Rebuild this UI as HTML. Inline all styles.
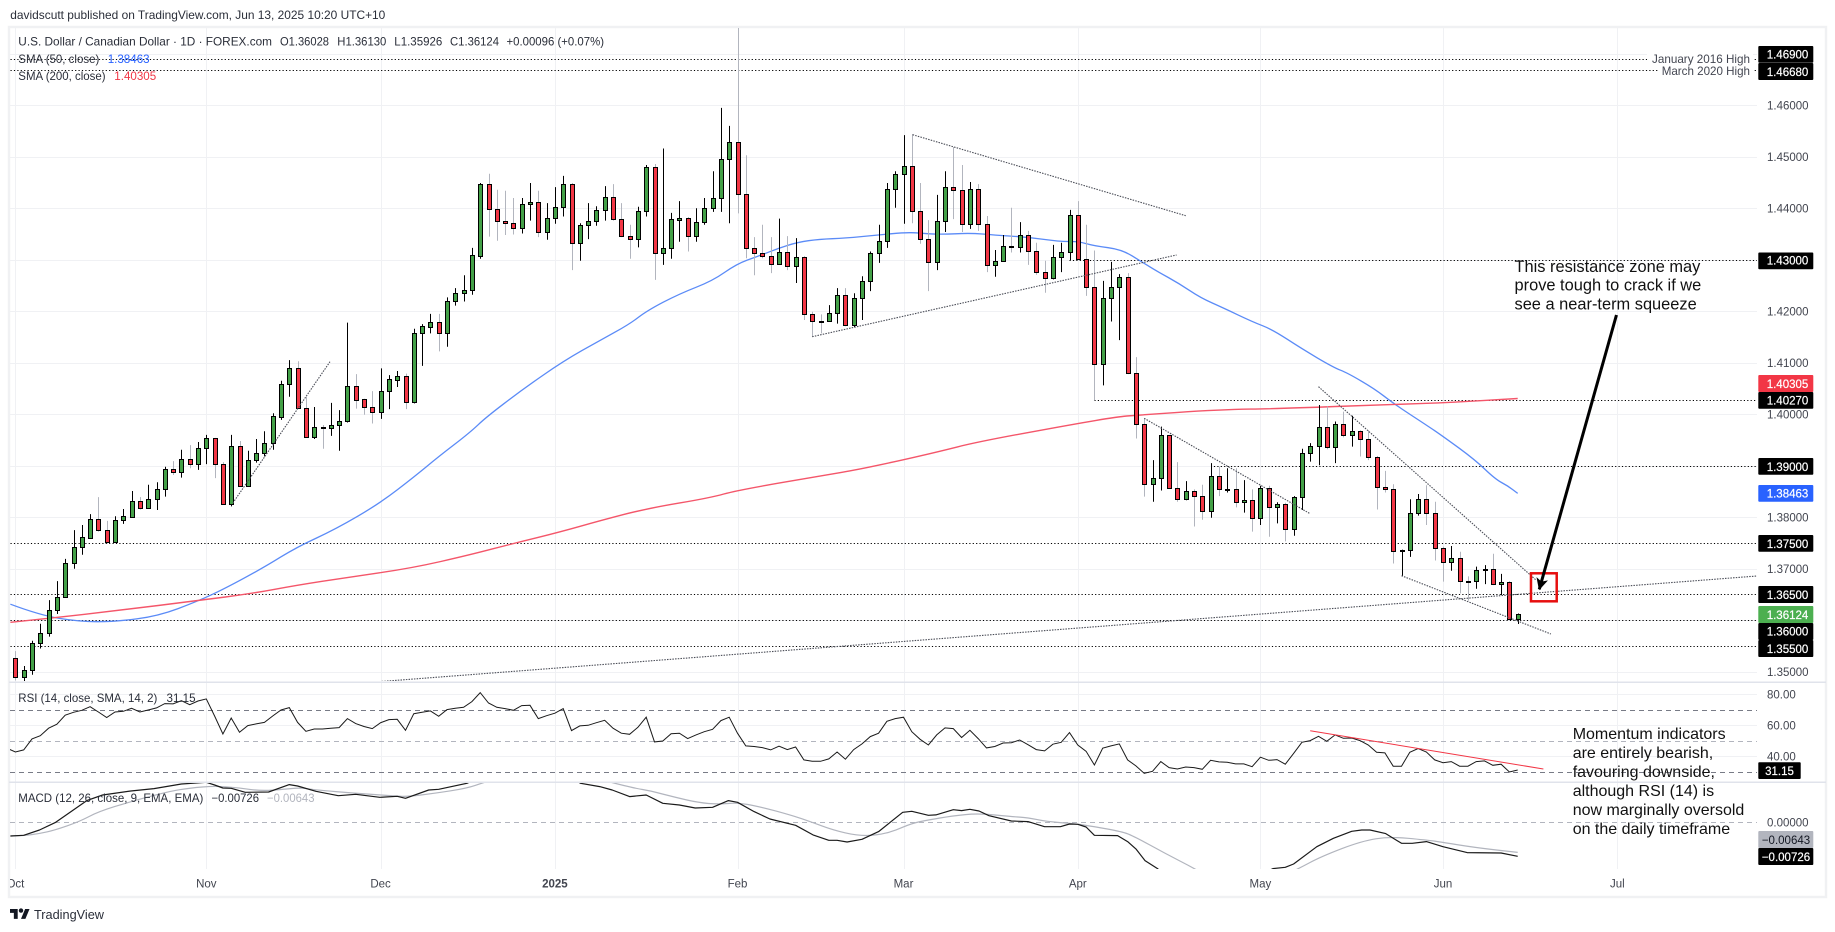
<!DOCTYPE html>
<html lang="en">
<head>
<meta charset="utf-8">
<title>USD/CAD daily chart</title>
<style>
html,body{margin:0;padding:0;background:#fff;width:1835px;height:932px;overflow:hidden}
svg{display:block;font-family:"Liberation Sans",Arial,sans-serif}
.leg{font-size:11.6px;fill:#2a2e39}
.tag{font-size:11.5px;fill:#fff;text-anchor:middle;stroke:#fff;stroke-width:.2}
.note{font-size:16.4px;fill:#111}
.note2{font-size:16px;fill:#111}
.tk{font-size:11.5px;fill:#42454f}
</style>
</head>
<body>
<svg id="chart" xmlns="http://www.w3.org/2000/svg" width="1835" height="932" viewBox="0 0 1835 932">
  <defs>
    <clipPath id="mainClip"><rect x="10" y="28" width="1747" height="653"/></clipPath>
    <clipPath id="rsiClip"><rect x="10" y="683" width="1747" height="98"/></clipPath>
    <clipPath id="macdClip"><rect x="10" y="783" width="1747" height="86"/></clipPath>
    <clipPath id="axisClip"><rect x="10" y="870" width="1747" height="26"/></clipPath>
    <marker id="arrowHead" markerUnits="userSpaceOnUse" markerWidth="14" markerHeight="14" refX="11" refY="6" orient="auto"><path d="M0 0L12 6L0 12L3 6Z" fill="#000"/></marker>
  </defs>
  <text class="leg" x="10.3" y="19" textLength="375" lengthAdjust="spacingAndGlyphs">davidscutt published on TradingView.com, Jun 13, 2025 10:20 UTC+10</text>
  <rect x="9" y="27" width="1817" height="870" fill="none" stroke="#f0f1f3" stroke-width="2.4"/>
  <g id="gridLayer"></g>
  <g id="priceLayer" clip-path="url(#mainClip)"></g>
  <g id="rsiLayer" clip-path="url(#rsiClip)"></g>
  <g id="macdLayer" clip-path="url(#macdClip)"></g>
  <rect x="9" y="681.5" width="1817" height="1.5" fill="#e0e3eb"/>
  <rect x="9" y="781.5" width="1817" height="1.5" fill="#e0e3eb"/>

  <g>
    <text class="leg" x="18.3" y="45.7" textLength="253.7" lengthAdjust="spacingAndGlyphs">U.S. Dollar / Canadian Dollar · 1D · FOREX.com</text>
    <text class="leg" x="280" y="45.7" textLength="49" lengthAdjust="spacingAndGlyphs">O1.36028</text>
    <text class="leg" x="337.3" y="45.7" textLength="49" lengthAdjust="spacingAndGlyphs">H1.36130</text>
    <text class="leg" x="394.3" y="45.7" textLength="48" lengthAdjust="spacingAndGlyphs">L1.35926</text>
    <text class="leg" x="450" y="45.7" textLength="49" lengthAdjust="spacingAndGlyphs">C1.36124</text>
    <text class="leg" x="506.5" y="45.7" textLength="97.5" lengthAdjust="spacingAndGlyphs">+0.00096 (+0.07%)</text>
  </g>
  <text class="leg" x="18.3" y="63" textLength="81" lengthAdjust="spacingAndGlyphs">SMA (50, close)</text>
  <text class="leg" x="107.7" y="63" style="fill:#2962ff">1.38463</text>
  <text class="leg" x="18.3" y="80" textLength="87.3" lengthAdjust="spacingAndGlyphs">SMA (200, close)</text>
  <text class="leg" x="114.3" y="80" style="fill:#f23645">1.40305</text>
  <text class="leg" x="18.3" y="702" textLength="139" lengthAdjust="spacingAndGlyphs">RSI (14, close, SMA, 14, 2)</text>
  <text class="leg" x="166.5" y="702">31.15</text>
  <text class="leg" x="18.3" y="802" textLength="185" lengthAdjust="spacingAndGlyphs">MACD (12, 26, close, 9, EMA, EMA)</text>
  <text class="leg" x="211.5" y="802" textLength="47.5" lengthAdjust="spacingAndGlyphs">−0.00726</text>
  <text class="leg" x="267" y="802" style="fill:#b2b5be" textLength="47.5" lengthAdjust="spacingAndGlyphs">−0.00643</text>

  <g>
    <rect x="1647" y="53" width="106" height="11" fill="#fff"/>
    <rect x="1659" y="65" width="94" height="11" fill="#fff"/>
    <text class="leg" x="1652" y="63" style="fill:#434651" textLength="98" lengthAdjust="spacingAndGlyphs">January 2016 High</text>
    <text class="leg" x="1661.7" y="75" style="fill:#434651" textLength="88.3" lengthAdjust="spacingAndGlyphs">March 2020 High</text>
  </g>

  <g>
    <text class="note" x="1514.5" y="272">This resistance zone may</text>
    <text class="note" x="1514.5" y="290.7">prove tough to crack if we</text>
    <text class="note" x="1514.5" y="309.3">see a near-term squeeze</text>
  </g>
  <g>
    <text class="note2" x="1572.7" y="739">Momentum indicators</text>
    <text class="note2" x="1572.7" y="757.8">are entirely bearish,</text>
    <text class="note2" x="1572.7" y="776.8">favouring downside,</text>
    <text class="note2" x="1572.7" y="796">although RSI (14) is</text>
    <text class="note2" x="1572.7" y="815">now marginally oversold</text>
    <text class="note2" x="1572.7" y="834">on the daily timeframe</text>
  </g>

  <g id="axisLayer"></g>

  <g>
    <g><rect x="1758.3" y="46" width="55" height="16.7" rx="1" fill="#000"/><text class="tag" x="1787.5" y="58.5">1.46900</text></g>
    <g><rect x="1758.3" y="63" width="55" height="17" rx="1" fill="#000"/><text class="tag" x="1787.5" y="75.8">1.46680</text></g>
    <g><rect x="1758.3" y="252.5" width="55" height="16.7" rx="1" fill="#000"/><text class="tag" x="1787.5" y="264.7">1.43000</text></g>
    <g><rect x="1758.3" y="375" width="55" height="17" rx="1" fill="#f23645"/><text class="tag" x="1787.5" y="388">1.40305</text></g>
    <g><rect x="1758.3" y="392" width="55" height="16.7" rx="1" fill="#000"/><text class="tag" x="1787.5" y="404.6">1.40270</text></g>
    <g><rect x="1758.3" y="458" width="55" height="16.7" rx="1" fill="#000"/><text class="tag" x="1787.5" y="470.8">1.39000</text></g>
    <g><rect x="1758.3" y="485" width="55" height="16.7" rx="1" fill="#2962ff"/><text class="tag" x="1787.5" y="497.6">1.38463</text></g>
    <g><rect x="1758.3" y="535" width="55" height="16.7" rx="1" fill="#000"/><text class="tag" x="1787.5" y="547.8">1.37500</text></g>
    <g><rect x="1758.3" y="586" width="55" height="17" rx="1" fill="#000"/><text class="tag" x="1787.5" y="598.8">1.36500</text></g>
    <g><rect x="1758.3" y="606" width="55" height="17" rx="1" fill="#4caf50"/><text class="tag" x="1787.5" y="619">1.36124</text></g>
    <g><rect x="1758.3" y="623" width="55" height="17" rx="1" fill="#000"/><text class="tag" x="1787.5" y="635.6">1.36000</text></g>
    <g><rect x="1758.3" y="640" width="55" height="17" rx="1" fill="#000"/><text class="tag" x="1787.5" y="653">1.35500</text></g>
    <g><rect x="1758.3" y="762.3" width="42.4" height="16.7" rx="1" fill="#000"/><text class="tag" x="1779.5" y="774.8">31.15</text></g>
    <g><rect x="1758.3" y="831" width="55" height="17" rx="1" fill="#b2b5be"/><text class="tag" x="1786" y="844.2" style="fill:#131722;stroke:none">−0.00643</text></g>
    <g><rect x="1758.3" y="848" width="55" height="17" rx="1" fill="#000"/><text class="tag" x="1786" y="860.8">−0.00726</text></g>
  </g>

  <g>
    <path transform="translate(10,906.8) scale(.55)" d="M14 22H7V11H0V4h14v18zM28 22h-8l7.5-18h8L28 22z" fill="#131722"/>
    <circle cx="21" cy="910.6" r="2.2" fill="#131722"/>
    <text x="34" y="919" font-size="13" fill="#2a2e39" textLength="70" lengthAdjust="spacingAndGlyphs">TradingView</text>
  </g>
</svg>

<script>
// ---- Data ----
var opens = [1.3526,1.3490,1.3503,1.3555,1.3576,1.3619,1.3646,1.3711,1.3742,1.3760,1.3796,1.3775,1.3751,1.3794,1.3801,1.3831,1.3817,1.3835,1.3854,1.3893,1.3888,1.3914,1.3904,1.3934,1.3953,1.3903,1.3825,1.3938,1.3860,1.3911,1.3924,1.3944,1.3995,1.4058,1.4089,1.4013,1.3955,1.3975,1.3973,1.3980,1.3986,1.4054,1.4029,1.4015,1.4005,1.4046,1.4067,1.4074,1.4023,1.4157,1.4170,1.4180,1.4157,1.4219,1.4235,1.4241,1.4308,1.4447,1.4398,1.4375,1.4371,1.4361,1.4408,1.4412,1.4353,1.4382,1.4402,1.4448,1.4332,1.4367,1.4375,1.4396,1.4421,1.4379,1.4347,1.4341,1.4394,1.4480,1.4314,1.4322,1.4378,1.4382,1.4346,1.4373,1.4400,1.4419,1.4495,1.4528,1.4427,1.4322,1.4314,1.4307,1.4291,1.4316,1.4287,1.4305,1.4194,1.4182,1.4182,1.4196,1.4231,1.4173,1.4225,1.4258,1.4314,1.4336,1.4437,1.4466,1.4482,1.4394,1.4340,1.4295,1.4375,1.4441,1.4435,1.4369,1.4437,1.4369,1.4289,1.4297,1.4326,1.4324,1.4349,1.4318,1.4276,1.4264,1.4305,1.4316,1.4386,1.4301,1.4248,1.4097,1.4225,1.4247,1.4266,1.4081,1.3982,1.3864,1.3876,1.3959,1.3856,1.3835,1.3850,1.3841,1.3813,1.3881,1.3854,1.3854,1.3829,1.3833,1.3798,1.3856,1.3819,1.3825,1.3778,1.3839,1.3924,1.3938,1.3975,1.3936,1.3982,1.3959,1.3967,1.3951,1.3916,1.3859,1.3854,1.3734,1.3736,1.3809,1.3835,1.3808,1.3740,1.3714,1.3720,1.3677,1.3676,1.3697,1.3699,1.3670,1.3674,1.36028];
var highs = [1.3540,1.3511,1.3560,1.3593,1.3639,1.3676,1.3719,1.3775,1.3785,1.3806,1.3839,1.3793,1.3802,1.3816,1.3851,1.3839,1.3863,1.3868,1.3898,1.3909,1.3931,1.3940,1.3946,1.3960,1.3954,1.3907,1.3960,1.3948,1.3929,1.3952,1.3967,1.4002,1.4065,1.4105,1.4103,1.4034,1.4014,1.3979,1.4022,1.4008,1.4178,1.4078,1.4030,1.4045,1.4089,1.4076,1.4084,1.4079,1.4166,1.4175,1.4195,1.4195,1.4227,1.4245,1.4270,1.4323,1.4449,1.4467,1.4436,1.4434,1.4420,1.4420,1.4449,1.4434,1.4410,1.4441,1.4463,1.4449,1.4371,1.4410,1.4404,1.4443,1.4447,1.4410,1.4368,1.4403,1.4484,1.4486,1.4516,1.4391,1.4414,1.4383,1.4400,1.4420,1.4472,1.4595,1.4560,1.4793,1.4503,1.4344,1.4368,1.4344,1.4380,1.4346,1.4342,1.4307,1.4199,1.4194,1.4212,1.4245,1.4245,1.4235,1.4268,1.4316,1.4368,1.4449,1.4472,1.4542,1.4544,1.4449,1.4377,1.4426,1.4472,1.4519,1.4484,1.4451,1.4447,1.4385,1.4319,1.4348,1.4401,1.4373,1.4356,1.4333,1.4298,1.4329,1.4333,1.4397,1.4414,1.4368,1.4318,1.4259,1.4296,1.4272,1.4274,1.4111,1.3992,1.3911,1.3976,1.3960,1.3907,1.3870,1.3854,1.3863,1.3905,1.3898,1.3895,1.3895,1.3872,1.3854,1.3861,1.3861,1.3829,1.3828,1.3841,1.3933,1.3944,1.4018,1.4015,1.3986,1.4005,1.3997,1.3969,1.3969,1.3919,1.3890,1.3864,1.3737,1.3835,1.3845,1.3862,1.3830,1.3743,1.3744,1.3733,1.3685,1.3704,1.3707,1.3729,1.3690,1.3676,1.36130];
var lows = [1.3483,1.3480,1.3494,1.3545,1.3568,1.3612,1.3644,1.3700,1.3727,1.3758,1.3772,1.3749,1.3750,1.3787,1.3799,1.3815,1.3816,1.3814,1.3840,1.3882,1.3877,1.3895,1.3892,1.3903,1.3876,1.3824,1.3821,1.3859,1.3859,1.3906,1.3918,1.3931,1.3989,1.4034,1.4012,1.3954,1.3952,1.3933,1.3958,1.3929,1.3984,1.4011,1.3999,1.3982,1.3991,1.4010,1.4053,1.4010,1.4021,1.4094,1.4157,1.4122,1.4131,1.4211,1.4219,1.4232,1.4302,1.4345,1.4337,1.4348,1.4349,1.4351,1.4376,1.4344,1.4339,1.4370,1.4384,1.4280,1.4298,1.4340,1.4366,1.4376,1.4376,1.4344,1.4302,1.4324,1.4384,1.4261,1.4290,1.4302,1.4335,1.4316,1.4335,1.4368,1.4393,1.4393,1.4371,1.4390,1.4303,1.4270,1.4303,1.4274,1.4290,1.4280,1.4255,1.4183,1.4151,1.4157,1.4180,1.4176,1.4171,1.4169,1.4183,1.4239,1.4294,1.4323,1.4401,1.4370,1.4371,1.4331,1.4239,1.4280,1.4354,1.4379,1.4354,1.4360,1.4356,1.4276,1.4267,1.4296,1.4314,1.4314,1.4290,1.4271,1.4236,1.4262,1.4276,1.4299,1.4300,1.4230,1.4027,1.4056,1.4180,1.4144,1.4078,1.3953,1.3840,1.3830,1.3852,1.3855,1.3830,1.3833,1.3782,1.3795,1.3799,1.3841,1.3848,1.3819,1.3809,1.3772,1.3785,1.3762,1.3788,1.3753,1.3764,1.3814,1.3908,1.3901,1.3932,1.3905,1.3955,1.3937,1.3918,1.3911,1.3815,1.3848,1.3710,1.3686,1.3723,1.3803,1.3785,1.3716,1.3675,1.3696,1.3652,1.3638,1.3661,1.3670,1.3668,1.3649,1.3602,1.35926];
var closes = [1.3490,1.3503,1.3555,1.3576,1.3619,1.3646,1.3711,1.3742,1.3761,1.3796,1.3775,1.3751,1.3794,1.3802,1.3831,1.3817,1.3835,1.3854,1.3893,1.3888,1.3914,1.3904,1.3934,1.3953,1.3903,1.3825,1.3938,1.3860,1.3911,1.3924,1.3944,1.3996,1.4058,1.4089,1.4013,1.3955,1.3975,1.3975,1.3980,1.3986,1.4054,1.4028,1.4015,1.4005,1.4046,1.4068,1.4074,1.4023,1.4157,1.4171,1.4180,1.4157,1.4219,1.4235,1.4241,1.4309,1.4447,1.4398,1.4375,1.4371,1.4361,1.4408,1.4412,1.4353,1.4382,1.4402,1.4448,1.4332,1.4367,1.4375,1.4396,1.4421,1.4379,1.4347,1.4341,1.4394,1.4480,1.4314,1.4322,1.4379,1.4382,1.4346,1.4373,1.4400,1.4419,1.4495,1.4528,1.4427,1.4322,1.4314,1.4307,1.4291,1.4316,1.4287,1.4305,1.4194,1.4182,1.4182,1.4196,1.4231,1.4173,1.4225,1.4258,1.4314,1.4336,1.4437,1.4466,1.4482,1.4394,1.4340,1.4295,1.4375,1.4441,1.4435,1.4369,1.4437,1.4369,1.4289,1.4297,1.4326,1.4326,1.4349,1.4318,1.4276,1.4264,1.4305,1.4316,1.4386,1.4301,1.4248,1.4097,1.4225,1.4247,1.4266,1.4081,1.3982,1.3864,1.3876,1.3959,1.3856,1.3835,1.3850,1.3841,1.3813,1.3881,1.3854,1.3855,1.3829,1.3833,1.3798,1.3856,1.3819,1.3825,1.3778,1.3839,1.3924,1.3938,1.3975,1.3936,1.3982,1.3959,1.3967,1.3951,1.3916,1.3859,1.3854,1.3734,1.3736,1.3809,1.3835,1.3808,1.3740,1.3714,1.3720,1.3677,1.3677,1.3697,1.3699,1.3670,1.3674,1.3603,1.36124];

var sma50Bars = [-0.6,2.9,7.7,12,17.2,22,25.3,30,33.9,38.6,43.9,48.1,51,54.8,56.7,61,66,70.5,74,76.1,80,84,86.9,89.5,91.9,94.2,96.9,100,103.8,107.1,108.8,111.4,115,118,121.9,125.9,128,130,133.3,135.7,137.6,140.2,142.8,145.6,149,151.5,154.9,158.8,160.5,163.7,166.1,170,172,175.9,178.3,179.8,181];
var sma50Values = [1.3631,1.3610,1.3597,1.3597,1.3608,1.3637,1.3662,1.3703,1.3742,1.3777,1.3827,1.3879,1.3918,1.3965,1.3994,1.4047,1.4103,1.4144,1.4175,1.4201,1.4234,1.4259,1.4292,1.4307,1.4322,1.4334,1.4340,1.4342,1.4348,1.4353,1.4352,1.4349,1.4352,1.4348,1.4344,1.4335,1.4336,1.4327,1.4320,1.4296,1.4277,1.4254,1.4226,1.4206,1.4180,1.4164,1.4128,1.4091,1.4080,1.4050,1.4020,1.3979,1.3957,1.3911,1.3874,1.3861,1.38463];
var sma200Bars = [-0.6,4.3,12.4,22,28.6,33.9,40,47.7,54.8,60,65.8,70.4,76.1,83.8,86.9,97.6,101.4,107.1,110.9,116.1,127.6,132.8,135,145.1,152.5,165.6,172,181];
var sma200Values = [1.3596,1.3604,1.3619,1.3638,1.3652,1.3668,1.3683,1.3701,1.3727,1.3749,1.3772,1.3793,1.3817,1.3838,1.3852,1.3882,1.3892,1.3912,1.3926,1.3947,1.3981,1.3995,1.3998,1.4009,1.4011,1.4019,1.4022,1.40305];

var rsiFirstBar = -1;
var rsiValues = [45.2,42.8,44.1,51.2,53.3,58.1,60.7,66.5,68.4,69.7,72.0,68.6,65.0,68.6,69.0,71.0,68.6,69.9,71.2,74.0,73.8,75.9,73.3,75.7,77.0,66.0,54.4,64.7,55.5,59.8,60.9,61.9,66.0,69.9,71.4,61.9,56.1,57.6,57.6,58.1,58.5,64.3,61.1,59.2,57.9,61.7,63.7,63.9,56.8,67.5,68.4,69.3,65.8,70.1,71.0,71.6,75.3,81.1,74.4,71.6,70.8,69.7,72.7,72.9,64.3,66.2,67.8,70.8,56.6,59.6,60.0,61.7,63.2,58.1,54.9,54.2,58.7,65.2,49.3,49.9,54.6,54.9,51.4,53.8,55.9,57.4,63.0,65.2,54.9,46.7,46.3,45.6,44.1,46.5,44.3,46.0,37.7,36.8,36.8,38.3,42.8,38.1,44.3,48.0,52.7,54.9,62.6,64.3,65.2,55.9,51.0,47.3,53.8,58.3,57.9,52.1,56.8,51.4,45.4,46.3,48.6,48.8,50.5,47.5,44.3,43.5,47.8,49.0,55.3,47.3,43.2,34.4,45.2,46.7,48.0,37.7,33.8,29.0,30.3,36.6,32.7,31.8,33.1,32.7,31.6,37.4,36.4,36.2,35.1,35.1,33.3,39.4,37.4,37.9,34.9,41.9,49.0,50.1,52.9,49.7,53.8,51.6,51.8,50.1,47.3,42.6,42.2,33.6,33.6,42.6,45.0,42.8,37.7,35.9,36.6,33.6,33.6,36.6,37.0,34.2,34.9,29.9,31.15];

var macdBars = [-0.6,1,2.9,4.8,6.7,8.6,10.5,13.9,16.7,20,23,24,25,26,27.7,30.5,33,34,36.2,38.9,41,43.9,46,47,49.8,51,54.4,58,62,65,68.1,70.4,71.9,74,76,78,80,81.9,84,85.9,87,89,90.9,94,96.1,98,99,100.2,102,104,106.9,108,110,110.9,113,114,115,116.1,117.3,120,122,124,125.9,127,128,129,130,132.8,134,135,136.1,137.6,141,144,147,150,151.5,153,154,156.8,158.8,161,162.2,163.2,165.1,167,168.3,170,172,174.9,179,181];
var macdValues = [-0.00292,-0.00278,-0.00164,-0.00007,0.00228,0.00463,0.00584,0.00669,0.00719,0.00818,0.00854,0.00797,0.00733,0.00726,0.00641,0.00648,0.00804,0.00776,0.00662,0.00569,0.00598,0.00534,0.00555,0.00512,0.00690,0.00705,0.00833,0.01117,0.01224,0.01153,0.00833,0.00762,0.00690,0.00548,0.00584,0.00406,0.00370,0.00306,0.00320,0.00463,0.00427,0.00228,0.00071,-0.00064,-0.00270,-0.00384,-0.00384,-0.00420,-0.00363,-0.00199,0.00214,0.00235,0.00149,0.00157,0.00270,0.00249,0.00278,0.00242,0.00142,0.00028,0.00014,-0.00093,-0.00093,-0.00036,-0.00043,-0.00100,-0.00278,-0.00285,-0.00413,-0.00569,-0.00818,-0.00989,-0.01516,-0.01658,-0.01480,-0.01124,-0.00989,-0.00961,-0.00890,-0.00520,-0.00342,-0.00192,-0.00164,-0.00164,-0.00242,-0.00448,-0.00448,-0.00413,-0.00520,-0.00648,-0.00655,-0.00726];
var signalBars = [-0.6,1,2.9,4.8,7.7,10,13.9,18.4,21,24,26.7,29.6,32.4,34.3,36.2,41,45.8,47.2,50.5,54.4,56.5,60,65,69,71.9,74.7,76.4,79.5,82.3,84.7,87,89.5,93.8,96.1,98.5,101.4,103.8,105.9,108,110,112.8,116.1,120,122,124.2,127.6,130,133.3,134.7,138.5,142.1,145,148,151,154.6,157.3,162.2,165.6,170,172,175.9,181];
var signalValues = [-0.00292,-0.00285,-0.00242,-0.00164,0.00014,0.00228,0.00441,0.00655,0.00733,0.00776,0.00740,0.00669,0.00705,0.00740,0.00690,0.00619,0.00562,0.00548,0.00619,0.00726,0.00854,0.01046,0.01117,0.00975,0.00847,0.00726,0.00676,0.00534,0.00420,0.00384,0.00420,0.00342,0.00135,-0.00007,-0.00164,-0.00285,-0.00278,-0.00185,-0.00021,0.00050,0.00135,0.00192,0.00121,0.00100,0.00014,-0.00028,-0.00093,-0.00199,-0.00292,-0.00662,-0.00989,-0.01302,-0.01480,-0.01302,-0.00989,-0.00733,-0.00399,-0.00306,-0.00377,-0.00427,-0.00541,-0.00643];

var priceTicks = [1.47,1.46,1.45,1.44,1.43,1.42,1.41,1.40,1.39,1.38,1.37,1.36,1.35];
var priceTickLabels = ['','1.46000','1.45000','1.44000','','1.42000','1.41000','1.40000','','1.38000','1.37000','','1.35000'];
var rsiTicks = [80,60,40];
var rsiTickLabels = ['80.00','60.00','40.00'];
var timeTickBars = [0,23,44,65,87,107,128,150,172,193];
var timeTickLabels = ['Oct','Nov','Dec','2025','Feb','Mar','Apr','May','Jun','Jul'];

var levelPrices = [1.469,1.4668,1.43,1.4027,1.39,1.375,1.365,1.36,1.355];
var levelStartBars = [-1,-1,127,130,144.4,-1,-1,-1,-1];
var trendStartBars = [26.2,43.8,108.1,96,136,157,167];
var trendStartPrices = [1.38276,1.34806,1.45429,1.41506,1.39921,1.40535,1.36864];
var trendEndBars = [37.9,209.8,141,139.9,155.9,183.2,185];
var trendEndPrices = [1.4102,1.36858,1.43856,1.43093,1.38076,1.36781,1.35732];
var rsiTrendBars = [156,184.1];
var rsiTrendValues = [56.5,31.8];
var arrowBars = [192.9,183.6];
var arrowPrices = [1.41927,1.366];
var boxBars = [182.6,185.7];
var boxPrices = [1.36911,1.36367];

// ---- Axis functions ----
function xBar(i){return 15.4+i*8.3;}
function yPrice(p){return 105.3+(1.46-p)*5149;}
function yRsi(v){return 694.3+(80-v)*1.55;}
function yMacd(v){return 822.3-v*4683;}
function crisp(v){return Math.round(v)+0.5;}

var NS='http://www.w3.org/2000/svg';
function make(tag,attrs,parent){
  var el=document.createElementNS(NS,tag);
  for(var k in attrs){el.setAttribute(k,attrs[k]);}
  parent.appendChild(el);
  return el;
}
function pathFrom(xs,ys,fx,fy){
  var d='';
  for(var i=0;i<xs.length;i++){d+=(i?'L':'M')+fx(xs[i]).toFixed(1)+' '+fy(ys[i]).toFixed(1);}
  return d;
}
function smoothFrom(xs,ys,fx,fy){
  var n=xs.length,d='M'+fx(xs[0]).toFixed(1)+' '+fy(ys[0]).toFixed(1);
  for(var i=1;i<n-1;i++){
    var mx=(fx(xs[i])+fx(xs[i+1]))/2,my=(fy(ys[i])+fy(ys[i+1]))/2;
    d+='Q'+fx(xs[i]).toFixed(1)+' '+fy(ys[i]).toFixed(1)+' '+mx.toFixed(1)+' '+my.toFixed(1);
  }
  d+='L'+fx(xs[n-1]).toFixed(1)+' '+fy(ys[n-1]).toFixed(1);
  return d;
}

var grid=document.getElementById('gridLayer');
var priceL=document.getElementById('priceLayer');
var rsiL=document.getElementById('rsiLayer');
var macdL=document.getElementById('macdLayer');
var axisL=document.getElementById('axisLayer');

// Grid
timeTickBars.forEach(function(b,i){
  var v=make('line',{x1:crisp(xBar(b)),x2:crisp(xBar(b)),y1:28,y2:869,stroke:'#f0f1f4','stroke-width':1},grid);
  
  
  var t=make('text',{x:xBar(b),y:887.5,'text-anchor':'middle','class':'tk','clip-path':'url(#axisClip)'},axisL);
  t.textContent=timeTickLabels[i];
  if(timeTickLabels[i]==='2025'){t.setAttribute('font-weight','bold');}
  
  
});
priceTicks.forEach(function(p,i){
  var h=make('line',{x1:10,x2:1757,y1:crisp(yPrice(p)),y2:crisp(yPrice(p)),stroke:'#f0f1f4','stroke-width':1},grid);
  
  
  if(priceTickLabels[i]){
    var t=make('text',{x:1767,y:yPrice(p)+4.2,'class':'tk'},axisL);
    t.textContent=priceTickLabels[i];
    
    
  }
});
rsiTicks.forEach(function(v,i){
  var h=make('line',{x1:10,x2:1757,y1:crisp(yRsi(v)),y2:crisp(yRsi(v)),stroke:'#f0f1f4','stroke-width':1},grid);
  
  
  var t=make('text',{x:1767,y:yRsi(v)+4.2,'class':'tk'},axisL);
  t.textContent=rsiTickLabels[i];
  
  
});
var zeroText=make('text',{x:1767,y:yMacd(0)+4.2,'class':'tk'},axisL);
zeroText.textContent='0.00000';



// Horizontal levels
levelPrices.forEach(function(p,i){
  var l=make('line',{x1:xBar(levelStartBars[i]),x2:1757,y1:crisp(yPrice(p)),y2:crisp(yPrice(p)),stroke:'#000','stroke-width':1,'stroke-dasharray':'1.2 2.2'},priceL);
  
  
});

// Moving averages
var sma50=make('path',{d:smoothFrom(sma50Bars,sma50Values,xBar,yPrice),fill:'none',stroke:'#5b8bf7','stroke-width':1.3,'stroke-linejoin':'round'},priceL);


var sma200=make('path',{d:smoothFrom(sma200Bars,sma200Values,xBar,yPrice),fill:'none',stroke:'#f4566a','stroke-width':1.4,'stroke-linejoin':'round'},priceL);



// Candles
opens.forEach(function(o,i){
  var c=closes[i],up=c>o,x=crisp(xBar(i));
  var wick=make('line',{x1:x,x2:x,y1:yPrice(highs[i]),y2:yPrice(lows[i]),stroke:up?'#000':'#b2b5be','stroke-width':1},priceL);
  
  
  var top=crisp(yPrice(Math.max(o,c))),bot=crisp(yPrice(Math.min(o,c)));
  var body=make('rect',{x:x-2,y:top,width:4,height:Math.max(bot-top,1),fill:up?'#43a047':'#f23645',stroke:'#000','stroke-width':1,'shape-rendering':'crispEdges'},priceL);
  
  
});

// Trend lines
trendStartBars.forEach(function(b,i){
  var t=make('line',{x1:xBar(b),y1:yPrice(trendStartPrices[i]),x2:xBar(trendEndBars[i]),y2:yPrice(trendEndPrices[i]),stroke:'#4a4d57','stroke-width':1.1,'stroke-dasharray':'1.5 1.2'},priceL);
  
  
});

// Annotation box and arrow
var box=make('rect',{x:xBar(boxBars[0]),y:yPrice(boxPrices[0]),width:xBar(boxBars[1])-xBar(boxBars[0]),height:yPrice(boxPrices[1])-yPrice(boxPrices[0]),fill:'none',stroke:'#e60f0f','stroke-width':2.5},priceL);


var arrow=make('line',{x1:xBar(arrowBars[0]),y1:yPrice(arrowPrices[0]),x2:xBar(arrowBars[1]),y2:yPrice(arrowPrices[1]),stroke:'#000','stroke-width':3,'marker-end':'url(#arrowHead)'},priceL);



// RSI pane
[[70,'#787b86'],[50,'#b2b5be'],[30,'#787b86']].forEach(function(b){
  var d=make('line',{x1:10,x2:1757,y1:crisp(yRsi(b[0])),y2:crisp(yRsi(b[0])),stroke:b[1],'stroke-width':1,'stroke-dasharray':'5 4'},rsiL);
  
  
});
var rsiBars=rsiValues.map(function(_,i){return rsiFirstBar+i;});
var rsiLine=make('path',{d:pathFrom(rsiBars,rsiValues,xBar,yRsi),fill:'none',stroke:'#1a1a1a','stroke-width':1},rsiL);


var rsiTrend=make('path',{d:pathFrom(rsiTrendBars,rsiTrendValues,xBar,yRsi),fill:'none',stroke:'#f23645','stroke-width':1},rsiL);



// MACD pane
var zero=make('line',{x1:10,x2:1757,y1:crisp(yMacd(0)),y2:crisp(yMacd(0)),stroke:'#b2b5be','stroke-width':1,'stroke-dasharray':'5 4'},macdL);


var signalLine=make('path',{d:smoothFrom(signalBars,signalValues,xBar,yMacd),fill:'none',stroke:'#b2b5be','stroke-width':1.2},macdL);


var macdLine=make('path',{d:pathFrom(macdBars,macdValues,xBar,yMacd),fill:'none',stroke:'#1a1a1a','stroke-width':1.2,'stroke-linejoin':'round'},macdL);


</script>
</body>
</html>
